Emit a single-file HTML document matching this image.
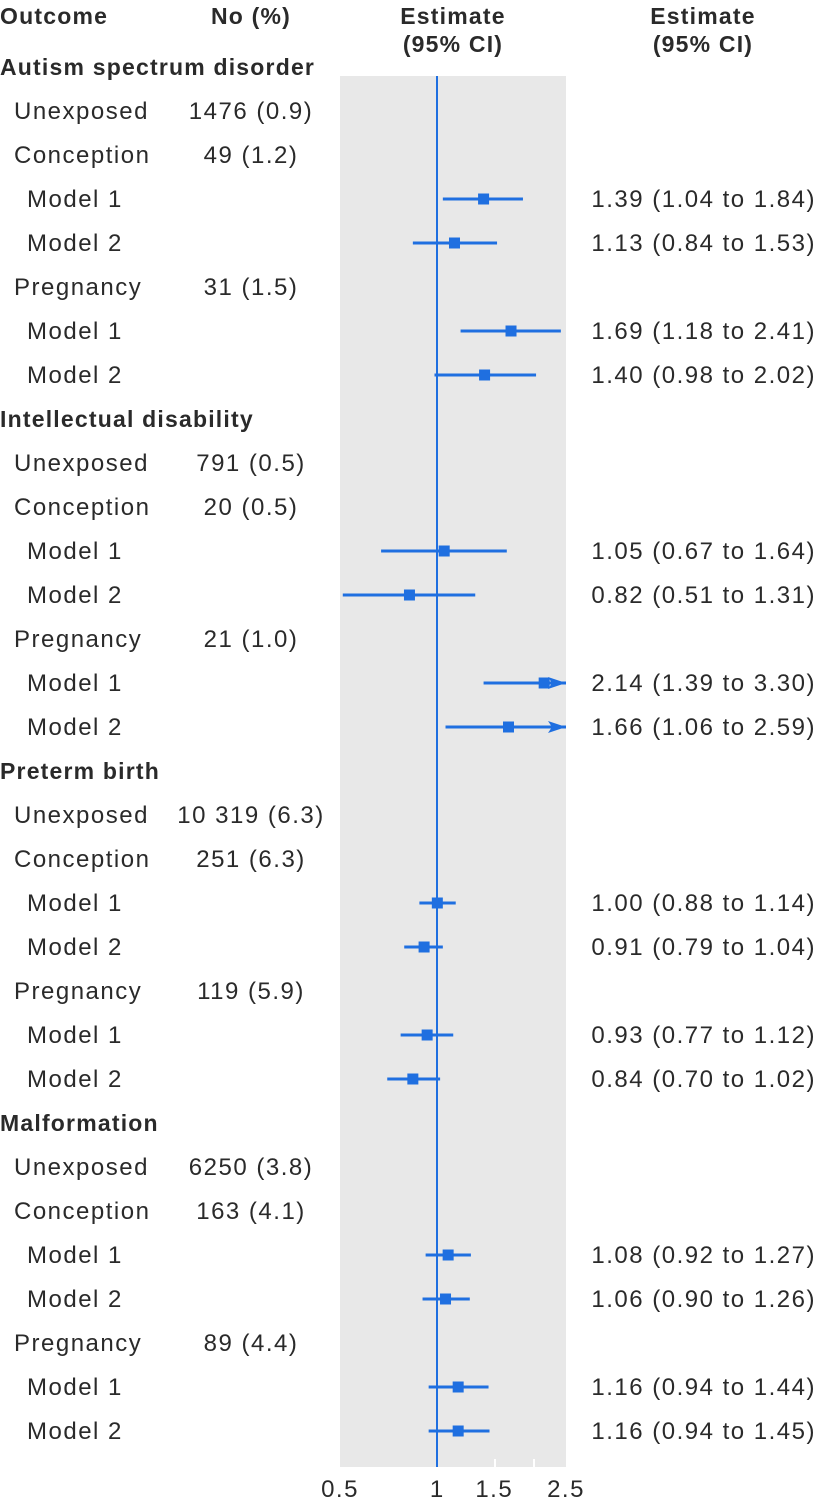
<!DOCTYPE html>
<html><head><meta charset="utf-8"><style>
html,body{margin:0;padding:0;background:#fff;}
svg{display:block;font-family:"Liberation Sans",sans-serif;}
.t{font-size:24px;fill:#2a2a2a;letter-spacing:1.5px;}
.h{font-size:23px;font-weight:bold;fill:#2a2a2a;letter-spacing:1.2px;}
</style></head><body>
<svg id="chart" width="820" height="1504">
<rect x="340" y="76" width="226" height="1391" fill="#e8e8e8"/>
<line x1="495" y1="1459" x2="495" y2="1467" stroke="#fff" stroke-width="2"/>
<line x1="534" y1="1459" x2="534" y2="1467" stroke="#fff" stroke-width="2"/>
<line x1="437" y1="76" x2="437" y2="1467" stroke="#1f6fe0" stroke-width="2"/>
<text class="h" x="0" y="24">Outcome</text>
<text class="h" x="251" y="24" text-anchor="middle">No (%)</text>
<text class="h" x="453" y="24" text-anchor="middle">Estimate</text>
<text class="h" x="453" y="52" text-anchor="middle">(95% CI)</text>
<text class="h" x="703" y="24" text-anchor="middle">Estimate</text>
<text class="h" x="703" y="52" text-anchor="middle">(95% CI)</text>
<g id="rows"></g>
<g id="axis"></g>
</svg>
<script>
const labels=["Autism spectrum disorder","Unexposed","Conception","Model 1","Model 2","Pregnancy","Model 1","Model 2",
"Intellectual disability","Unexposed","Conception","Model 1","Model 2","Pregnancy","Model 1","Model 2",
"Preterm birth","Unexposed","Conception","Model 1","Model 2","Pregnancy","Model 1","Model 2",
"Malformation","Unexposed","Conception","Model 1","Model 2","Pregnancy","Model 1","Model 2"];
const levels=[0,1,1,2,2,1,2,2,0,1,1,2,2,1,2,2,0,1,1,2,2,1,2,2,0,1,1,2,2,1,2,2];
const counts=["","1476 (0.9)","49 (1.2)","","","31 (1.5)","","","","791 (0.5)","20 (0.5)","","","21 (1.0)","","","","10 319 (6.3)","251 (6.3)","","","119 (5.9)","","","","6250 (3.8)","163 (4.1)","","","89 (4.4)","",""];
const est=[null,null,null,1.39,1.13,null,1.69,1.40,null,null,null,1.05,0.82,null,2.14,1.66,null,null,null,1.00,0.91,null,0.93,0.84,null,null,null,1.08,1.06,null,1.16,1.16];
const lo=[null,null,null,1.04,0.84,null,1.18,0.98,null,null,null,0.67,0.51,null,1.39,1.06,null,null,null,0.88,0.79,null,0.77,0.70,null,null,null,0.92,0.90,null,0.94,0.94];
const hi=[null,null,null,1.84,1.53,null,2.41,2.02,null,null,null,1.64,1.31,null,3.30,2.59,null,null,null,1.14,1.04,null,1.12,1.02,null,null,null,1.27,1.26,null,1.44,1.45];
const ticks=[0.5,1,1.5,2.5];
const tickLabels=["0.5","1","1.5","2.5"];
const xmin=0.5,xmax=2.5,px0=340,px1=566;
const X=v=>px0+(Math.log(Math.min(Math.max(v,xmin),xmax))-Math.log(xmin))/(Math.log(xmax)-Math.log(xmin))*(px1-px0);
const Y=i=>67+44*i;
const NS="http://www.w3.org/2000/svg";
const g=document.getElementById('rows');
function mk(tag,attrs,parent){const e=document.createElementNS(NS,tag);for(const k in attrs)e.setAttribute(k,attrs[k]);(parent||g).appendChild(e);return e;}
const fmt=v=>v.toFixed(2);
labels.forEach((l,i)=>{
 const y=Y(i)+8;
 const t=mk('text',{x:[0,14,27][levels[i]],y:y,class:levels[i]===0?'h':'t'});t.textContent=l;
 
 
 if(counts[i]){const c=mk('text',{x:251,y:y,class:'t','text-anchor':'middle'});c.textContent=counts[i];
  
  }
 if(est[i]!==null){
  const yc=Y(i);
  const ci=mk('line',{x1:X(lo[i]),x2:X(hi[i]),y1:yc,y2:yc,stroke:'#1f6fe0','stroke-width':3});
  
  
  if(hi[i]>xmax){const ax=X(xmax);const a=mk('polygon',{points:`${ax},${yc} ${ax-18},${yc-6} ${ax-14},${yc} ${ax-18},${yc+6}`,fill:'#1f6fe0'});
   
   }
  const p=mk('rect',{x:X(est[i])-5.5,y:yc-5.5,width:11,height:11,fill:'#1f6fe0'});
  
  
  const e=mk('text',{x:816,y:y,class:'t','text-anchor':'end'});
  e.textContent=`${fmt(est[i])} (${fmt(lo[i])} to ${fmt(hi[i])})`;
  
  
 }
});
const ax=document.getElementById('axis');
ticks.forEach((v,i)=>{const t=mk('text',{x:X(v),y:1497,class:'t','text-anchor':'middle'},ax);t.textContent=tickLabels[i];
 
 });
</script>
</body></html>
